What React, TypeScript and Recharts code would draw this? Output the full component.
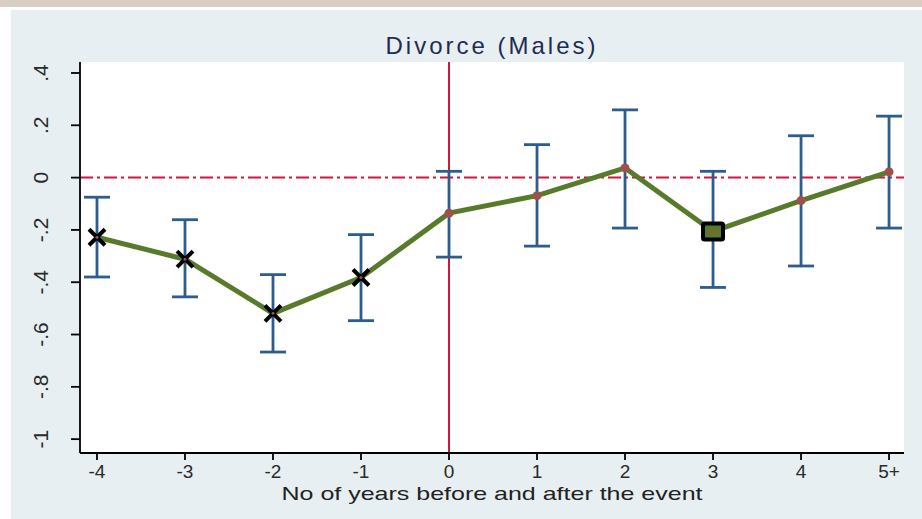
import React from "react";
import {
  ComposedChart, Line, XAxis, YAxis, CartesianGrid, ReferenceLine, ErrorBar,
} from "recharts";

// event-time coefficients, Divorce (Males)
const years = [-4, -3, -2, -1, 0, 1, 2, 3, 4, 5];
const estimates = [-0.228, -0.312, -0.519, -0.382, -0.136, -0.069, 0.037, -0.206, -0.088, 0.022];
const ciLow = [-0.38, -0.456, -0.667, -0.547, -0.304, -0.262, -0.193, -0.42, -0.338, -0.193];
const ciHigh = [-0.075, -0.161, -0.371, -0.218, 0.024, 0.126, 0.259, 0.024, 0.16, 0.235];
const markers = ["x", "x", "x", "x", "o", "o", "o", "square", "o", "o"];
const yTicks = [-1, -0.8, -0.6, -0.4, -0.2, 0, 0.2, 0.4];
const xTickLabels = ["-4", "-3", "-2", "-1", "0", "1", "2", "3", "4", "5+"];

const FONT = "'Liberation Sans', Arial, sans-serif";
const RED = "#d0163f";
const GREEN = "#577b2b";
const BLUE = "#2d5d8c";

const data = years.map((x, i) => ({
  x,
  est: estimates[i],
  err: [estimates[i] - ciLow[i], ciHigh[i] - estimates[i]],
  marker: markers[i],
}));

const fmtY = (v: number) => {
  if (v === 0) return "0";
  if (Math.abs(v) === 1) return v < 0 ? "-1" : "1";
  return (v < 0 ? "-" : "") + "." + Math.round(Math.abs(v) * 10);
};

const YTick = ({ x, y, payload }: any) => (
  <text
    transform={`translate(${x - 21},${y}) rotate(-90)`}
    textAnchor="middle"
    fontSize={21}
    fontFamily={FONT}
    fill="#2a2a2a"
  >
    {fmtY(payload.value)}
  </text>
);

const XTick = ({ x, y, payload }: any) => (
  <text x={x} y={y + 16} textAnchor="middle" fontSize={19} fontFamily={FONT} fill="#2a2a2a">
    {xTickLabels[years.indexOf(payload.value)]}
  </text>
);

const XTitle = ({ viewBox }: any) => (
  <text
    x={viewBox.x + viewBox.width / 2}
    y={viewBox.y + 47}
    textAnchor="middle"
    fontSize={19}
    fontFamily={FONT}
    fill="#222"
    textLength={421}
    lengthAdjust="spacingAndGlyphs"
  >
    No of years before and after the event
  </text>
);

const Marker = (props: any) => {
  const { cx, cy, payload, index } = props;
  if (cx == null || cy == null) return <g key={`d-${index}`} />;
  if (payload.marker === "x") {
    return (
      <g key={`d-${index}`}>
        <path
          d={`M${cx - 8},${cy - 8}L${cx + 8},${cy + 8}M${cx - 8},${cy + 8}L${cx + 8},${cy - 8}`}
          stroke="#000"
          strokeWidth={4}
        />
        <circle cx={cx} cy={cy} r={1.5} fill="#a0504a" />
      </g>
    );
  }
  if (payload.marker === "square") {
    return (
      <g key={`d-${index}`}>
        <rect x={cx - 10} y={cy - 8} width={20} height={16} fill={GREEN} stroke="#000" strokeWidth={4} rx={1.5} />
        <rect x={cx - 4} y={cy} width={8} height={2} fill="#a0504a" />
      </g>
    );
  }
  return <circle key={`d-${index}`} cx={cx} cy={cy} r={4.5} fill="#a0504a" />;
};

export default function App() {
  return (
    <div style={{ position: "absolute", left: 0, top: 0, width: 922, height: 519, background: "#fff" }}>
      <div style={{ position: "absolute", left: 0, top: 0, width: 922, height: 7, background: "#d8cec2" }} />
      <div style={{ position: "absolute", left: 11, top: 10, right: 0, bottom: 0, background: "#e8eff2" }} />
      <div
        style={{
          position: "absolute", left: 80, top: 32, width: 824, textAlign: "center",
          fontFamily: FONT, fontSize: 24, color: "#1f2c50", letterSpacing: 3,
        }}
      >
        Divorce (Males)
      </div>
      <div style={{ position: "absolute", left: 0, top: 0 }}>
        <ComposedChart width={922} height={519} data={data} margin={{ top: 62, right: 18, bottom: 0, left: 8 }}>
          <CartesianGrid fill="#fff" stroke="none" horizontal={false} vertical={false} />
          <XAxis
            dataKey="x"
            type="number"
            domain={[-4.193, 5.17]}
            ticks={years}
            allowDataOverflow
            height={66}
            tickSize={7}
            tickMargin={2}
            stroke="#000"
            strokeWidth={1.8}
            tick={<XTick />}
            label={<XTitle />}
          />
          <YAxis
            type="number"
            domain={[-1.053, 0.442]}
            ticks={yTicks}
            allowDataOverflow
            width={72}
            tickSize={9}
            tickMargin={2}
            stroke="#000"
            strokeWidth={1.8}
            tick={<YTick />}
          />
          <ReferenceLine y={0} stroke={RED} strokeWidth={2} strokeDasharray="13 4 3 4" />
          <ReferenceLine x={0} stroke={RED} strokeWidth={2} />
          <Line
            dataKey="est"
            stroke={GREEN}
            strokeWidth={5}
            dot={(p: any) => <Marker key={`m-${p.index}`} {...p} />}
            activeDot={false}
            isAnimationActive={false}
          >
            <ErrorBar dataKey="err" direction="y" width={13} stroke={BLUE} strokeWidth={2.8} />
          </Line>
        </ComposedChart>
      </div>
    </div>
  );
}
